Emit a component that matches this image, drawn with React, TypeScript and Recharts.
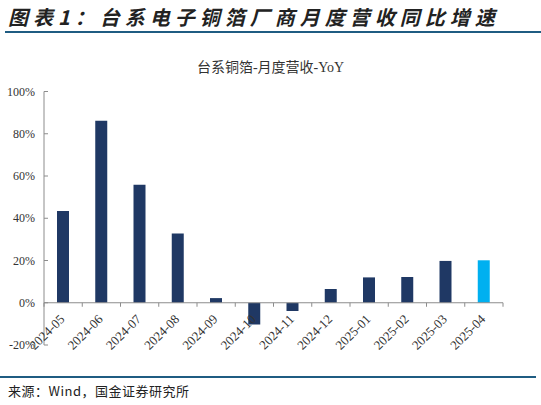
import { BarChart, Bar, XAxis, YAxis, Cell, ReferenceLine } from "recharts";

const months = [
  "2024-05", "2024-06", "2024-07", "2024-08", "2024-09", "2024-10",
  "2024-11", "2024-12", "2025-01", "2025-02", "2025-03", "2025-04",
];
const yoy = [43.4, 86.1, 55.9, 32.8, 2.2, -10.3, -3.9, 6.5, 12.0, 12.2, 19.8, 20.1];
const yTicks = [-20, 0, 20, 40, 60, 80, 100];

const data = months.map((m, i) => ({ month: m, yoy: yoy[i] }));

const W = 541;
const H = 405;
const TOP = 91.5;
const BOTTOM = 40;
const XAXIS_H = 20;
const LEFT = 44;
const RIGHT = 38;
const PLOT_H = H - TOP - BOTTOM - XAXIS_H;
const PLOT_W = W - LEFT - RIGHT;
const BAND = PLOT_W / months.length;
const ZERO_Y = TOP + (PLOT_H * 100) / 120;
const AXIS = "#8c8c8c";
const NAVY = "#1f3864";
const CYAN = "#00b0f0";
const SERIF = "'Liberation Serif', 'Noto Sans CJK SC', serif";

function MonthTick(props: any) {
  const { x, index, payload } = props;
  const ax = x - 1;
  const ay = ZERO_Y + 14;
  return (
    <g>
      <line x1={x - BAND / 2} x2={x - BAND / 2} y1={ZERO_Y} y2={ZERO_Y + 4} stroke={AXIS} />
      {index === months.length - 1 && (
        <line x1={x + BAND / 2} x2={x + BAND / 2} y1={ZERO_Y} y2={ZERO_Y + 4} stroke={AXIS} />
      )}
      <g transform={`translate(${ax} ${ay}) rotate(-45)`}>
        <text x={0} y={0} dy="0.35em" textAnchor="end" fontSize={13} fontFamily={SERIF} fill="#333">
          {payload.value}
        </text>
      </g>
    </g>
  );
}

function PctTick(props: any) {
  const { y, payload } = props;
  return (
    <g>
      <line x1={LEFT} x2={LEFT + 4} y1={y} y2={y} stroke={AXIS} />
      <text x={LEFT - 9} y={y} dy="0.35em" textAnchor="end" fontSize={12} fontFamily={SERIF} fill="#333">
        {payload.value}%
      </text>
    </g>
  );
}

export default function App() {
  return (
    <div style={{ position: "absolute", left: 0, top: 0, width: W, height: H, background: "#fff" }}>
      <div
        style={{
          position: "absolute", left: 8, top: 4, fontSize: 20, fontWeight: "bold", fontStyle: "italic",
          letterSpacing: 5, color: "#222", fontFamily: "'Noto Sans CJK SC', sans-serif", lineHeight: "26px",
        }}
      >
        图表1：台系电子铜箔厂商月度营收同比增速
      </div>
      <div style={{ position: "absolute", left: 5, top: 31, width: 536, height: 2, background: "#1f5c82" }} />
      <div
        style={{
          position: "absolute", left: 0, top: 59, width: W, textAlign: "center", fontSize: 14,
          color: "#333", fontFamily: SERIF, lineHeight: "18px",
        }}
      >
        台系铜箔-月度营收-YoY
      </div>
      <div style={{ position: "absolute", left: 0, top: 376, width: 536, height: 2, background: "#1f5c82" }} />
      <div
        style={{
          position: "absolute", left: 8, top: 382, fontSize: 13, color: "#222", letterSpacing: 0.5,
          fontFamily: "'Noto Sans CJK SC', monospace", lineHeight: "18px",
        }}
      >
        来源：Wind，国金证券研究所
      </div>
      <div style={{ position: "absolute", left: 0, top: 0 }}>
        <BarChart
          width={W}
          height={H}
          data={data}
          margin={{ top: TOP, right: RIGHT, left: 0, bottom: BOTTOM }}
        >
          <XAxis
            dataKey="month"
            height={XAXIS_H}
            axisLine={false}
            tickLine={false}
            interval={0}
            tick={<MonthTick />}
          />
          <YAxis
            width={LEFT}
            domain={[-20, 100]}
            ticks={yTicks}
            interval={0}
            axisLine={{ stroke: AXIS }}
            tickLine={false}
            tickSize={0}
            tick={<PctTick />}
          />
          <ReferenceLine y={0} stroke={AXIS} />
          <Bar dataKey="yoy" barSize={12} isAnimationActive={false}>
            {data.map((d, i) => (
              <Cell key={d.month} fill={i === data.length - 1 ? CYAN : NAVY} />
            ))}
          </Bar>
        </BarChart>
      </div>
    </div>
  );
}
